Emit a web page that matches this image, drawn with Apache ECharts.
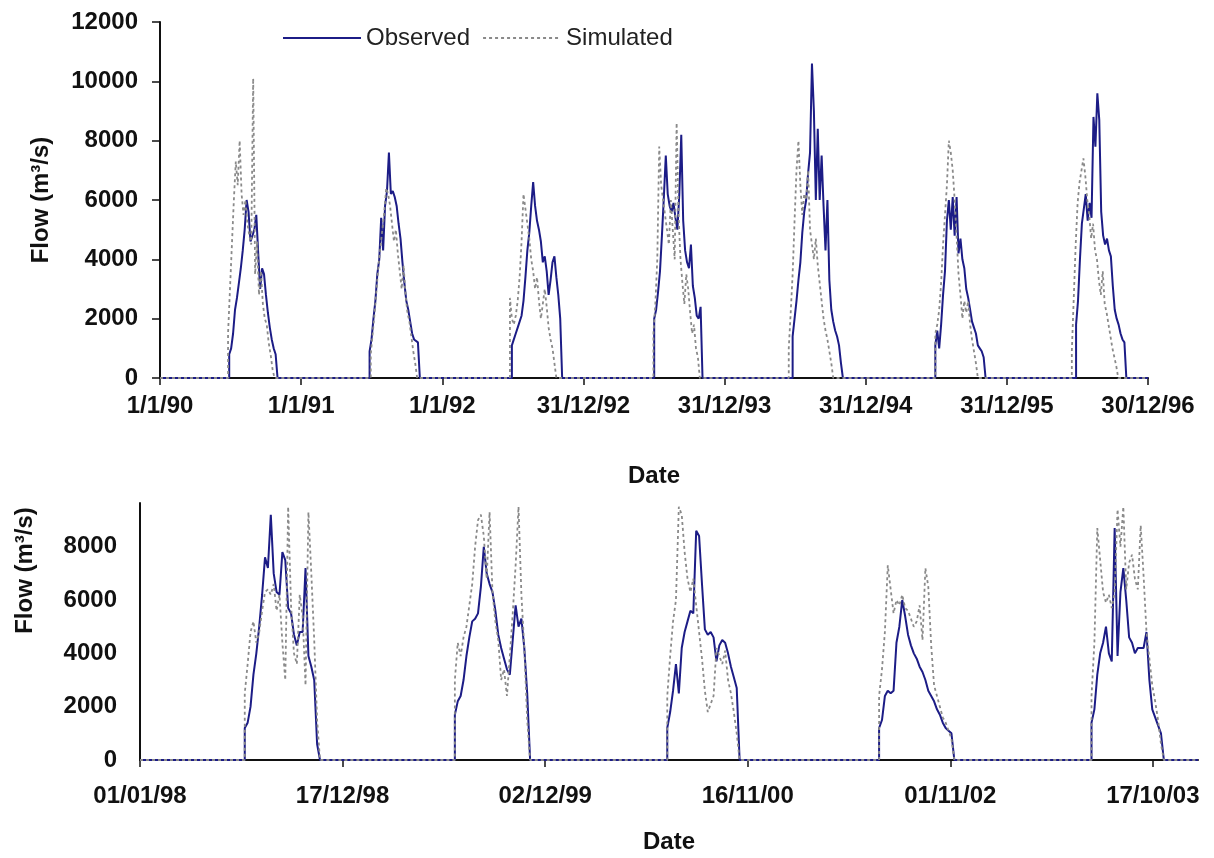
<!DOCTYPE html>
<html>
<head>
<meta charset="utf-8">
<title>Observed vs simulated flow</title>
<script src="https://cdn.jsdelivr.net/npm/echarts@6/dist/echarts.min.js"></script>
<style>
  html, body { margin: 0; padding: 0; background: #fff; }
  #chart { width: 1214px; height: 858px; }
</style>
</head>
<body>
<div id="chart"></div>
<script>
// x values are days counted from the first tick of each panel, one value every STEP days
const STEP = 5;

// top panel (1990-1996)
const topTickLabels = ['1/1/90', '1/1/91', '1/1/92', '31/12/92', '31/12/93', '31/12/94', '31/12/95', '30/12/96'];
const topTickDays = 365;
const topEndDay = 2555;
const topObsStart = [179, 542, 910, 1278, 1636, 2005, 2369];
const topObs = [
    [800, 1000, 1500, 2300, 2700, 3200, 3700, 4300, 5000, 6000, 5600, 4600, 4800, 5000, 5500, 4200, 3000, 3700, 3500, 2800, 2200, 1700, 1300, 1000, 800, 0],
    [900, 1300, 2000, 2600, 3500, 4000, 5400, 4300, 5800, 6300, 7600, 6200, 6300, 6100, 5800, 5200, 4700, 3900, 3200, 2600, 2300, 1900, 1500, 1300, 1300, 1200, 0],
    [1100, 1300, 1500, 1700, 1900, 2100, 2600, 3400, 4300, 4900, 5800, 6600, 5800, 5300, 5000, 4600, 3900, 4100, 3600, 2800, 3300, 3900, 4100, 3400, 2800, 2000, 0],
    [2000, 2300, 2900, 3600, 4800, 6100, 7500, 6200, 5800, 5600, 5900, 5400, 5000, 6200, 8200, 5300, 4300, 3900, 3700, 4500, 3100, 2700, 2100, 2000, 2400, 0],
    [1400, 2000, 2600, 3300, 3900, 4900, 5600, 6000, 6900, 7600, 10600, 9000, 6000, 8400, 6000, 7500, 5800, 4300, 6000, 3300, 2300, 1900, 1600, 1400, 1100, 500, 0],
    [1100, 1600, 1000, 1800, 2800, 3600, 5300, 6000, 5000, 6100, 4800, 6100, 4200, 4700, 4000, 3700, 3000, 2700, 2300, 1900, 1700, 1500, 1100, 1000, 900, 700, 0],
    [1800, 2600, 4000, 5200, 5700, 6200, 5300, 5900, 5400, 8800, 7800, 9600, 8700, 5600, 4800, 4500, 4700, 4300, 4100, 3100, 2300, 2000, 1800, 1500, 1300, 1200, 0]
];
const topSimStart = [176, 545, 905, 1276, 1626, 2005, 2358];
const topSim = [
    [1500, 3000, 4500, 6000, 7300, 6500, 8000, 6200, 5500, 6000, 5200, 4800, 4500, 10100, 3500, 4600, 2800, 3600, 2500, 2000, 1800, 1200, 800, 300, 0],
    [800, 1500, 2200, 3000, 3800, 4400, 5000, 5600, 6400, 6200, 5800, 5200, 4600, 5000, 4200, 3600, 3000, 3800, 2800, 2200, 1900, 1400, 900, 500, 0],
    [2700, 2000, 1800, 2100, 2600, 3400, 4600, 6200, 5700, 5200, 4700, 4000, 3600, 3000, 3400, 2600, 2000, 2500, 3000, 2400, 1700, 1300, 1000, 500, 0],
    [1500, 2500, 4000, 7800, 6500, 6000, 5500, 5000, 4500, 6000, 5000, 4000, 8600, 5500, 4000, 3200, 2500, 3500, 3000, 2200, 1500, 1800, 1000, 700, 0],
    [1000, 2200, 3500, 5300, 7000, 8000, 6500, 5500, 6200, 6000, 7000, 5000, 4500, 4000, 4700, 3800, 3200, 2600, 2000, 1600, 1300, 900, 500, 0],
    [1500, 1800, 2300, 3200, 4500, 5500, 6500, 8000, 7600, 7000, 6000, 4800, 3500, 2800, 2000, 2600, 2200, 2600, 1800, 1300, 900, 500, 0],
    [900, 2700, 4500, 5900, 6600, 7000, 7400, 6800, 6000, 5500, 4700, 5200, 4300, 4000, 3300, 2800, 3600, 2500, 2200, 1800, 1400, 1000, 700, 400, 0]
];

// bottom panel (1998-2003)
const botTickLabels = ['01/01/98', '17/12/98', '02/12/99', '16/11/00', '01/11/02', '17/10/03'];
const botTickDays = 350;
const botEndDay = 1828;
const botObsStart = [181, 544, 911, 1277, 1644];
const botObs = [
    [1200, 1400, 2000, 3200, 4000, 5000, 6200, 7600, 7200, 9200, 7000, 6300, 6200, 7800, 7500, 5700, 5500, 4700, 4300, 4800, 4800, 7200, 3900, 3500, 3000, 600, 0],
    [1700, 2200, 2400, 3000, 3900, 4600, 5200, 5300, 5500, 6500, 8000, 7000, 6600, 6300, 5600, 4700, 4200, 3800, 3400, 3200, 4500, 5800, 5000, 5300, 4200, 2500, 0],
    [1200, 1800, 2600, 3600, 2500, 4200, 4800, 5200, 5600, 5500, 8600, 8400, 6600, 4900, 4700, 4800, 4600, 3700, 4300, 4500, 4400, 4000, 3500, 3100, 2700, 0],
    [1200, 1500, 2400, 2600, 2500, 2600, 4400, 5000, 6000, 5400, 4700, 4300, 4000, 3800, 3500, 3300, 3000, 2600, 2400, 2200, 1900, 1700, 1400, 1200, 1100, 1000, 0],
    [1400, 1900, 3200, 4000, 4400, 5000, 4000, 3700, 8700, 3900, 6300, 7200, 6000, 4600, 4400, 4000, 4200, 4200, 4200, 4800, 3000, 1900, 1600, 1300, 1000, 0]
];
const botSimStart = [181, 544, 911, 1277, 1644];
const botSim = [
    [2500, 3600, 4800, 5200, 4400, 4800, 5600, 6300, 6400, 6200, 6600, 5600, 6200, 4400, 3000, 9500, 5800, 4000, 3600, 6200, 5400, 2800, 9300, 7000, 4500, 1500, 0],
    [3000, 4400, 3900, 4600, 5000, 5800, 6600, 8000, 9000, 9200, 8400, 6800, 9300, 6300, 5200, 4500, 3000, 3400, 2400, 3900, 5500, 7300, 9500, 6200, 4200, 1500, 0],
    [2400, 3900, 5200, 6000, 9500, 9200, 7800, 6800, 6300, 6800, 5800, 4800, 3800, 2600, 1800, 2100, 2400, 4200, 3900, 3600, 4100, 3000, 2500, 1800, 1000, 0],
    [2400, 3400, 4800, 7300, 6400, 5500, 6000, 5800, 6200, 5700, 5600, 5300, 5000, 5200, 5800, 4500, 7200, 6500, 4300, 2800, 2400, 2000, 1600, 1400, 1100, 800, 0],
    [2400, 4400, 8700, 7500, 6300, 5900, 6200, 5700, 6300, 9400, 8000, 9500, 6400, 7400, 7700, 6800, 6400, 8800, 6900, 4800, 3800, 2800, 2200, 1500, 600, 0]
];

// flow is zero between the wet seasons
function buildSeries (starts, seasons, endDay) {
    let pts = [[0, 0]];
    seasons.forEach((vals, k) => {
        pts.push([starts[k], 0]);
        vals.forEach((v, i) => pts.push([starts[k] + i * STEP, v]));
    });
    pts.push([endDay, 0]);
    return pts;
}

const FONT = 'Liberation Sans, Arial, sans-serif';
const OBS_COLOR = '#1c1c86';
const SIM_COLOR = '#8a8a8a';

let labelStyle = { fontFamily: FONT, fontWeight: 'bold', fontSize: 24, color: '#111' };
let axisLine = { show: true, lineStyle: { color: '#111', width: 2 } };

function obsSeries (data, idx) {
    return {
        name: 'Observed', type: 'line', xAxisIndex: idx, yAxisIndex: idx, data: data,
        symbol: 'none', showSymbol: false,
        lineStyle: { color: OBS_COLOR, width: 2 }, itemStyle: { color: OBS_COLOR }
    };
}
function simSeries (data, idx) {
    return {
        name: 'Simulated', type: 'line', xAxisIndex: idx, yAxisIndex: idx, data: data,
        symbol: 'none', showSymbol: false,
        lineStyle: { color: SIM_COLOR, width: 1.8, type: [3, 3] }, itemStyle: { color: SIM_COLOR }
    };
}

let topTickVals = topTickLabels.map((t, i) => i * topTickDays);
let botTickVals = botTickLabels.map((t, i) => i * botTickDays);
let plainNumber = v => String(v);

let option = {
    backgroundColor: '#fff',
    animation: false,
    legend: {
        left: 277, top: 21,
        itemWidth: 78, itemHeight: 14, itemGap: 12,
        itemStyle: { opacity: 0 },
        textStyle: { fontFamily: FONT, fontSize: 24, color: '#222' },
        data: ['Observed', 'Simulated']
    },
    grid: [
        { left: 160, right: 66, top: 22, bottom: 480 },
        { left: 140, right: 16, top: 503, bottom: 98 }
    ],
    xAxis: [
        {
            gridIndex: 0, type: 'value', min: 0, max: topEndDay, interval: topTickDays,
            axisLine: axisLine,
            axisTick: { show: true, length: 7, lineStyle: { color: '#111', width: 1.5 } },
            axisLabel: Object.assign({ margin: 16, formatter: v => topTickLabels[Math.round(v / topTickDays)] || '' }, labelStyle),
            splitLine: { show: false },
            name: 'Date', nameLocation: 'middle', nameGap: 86, nameTextStyle: labelStyle
        },
        {
            gridIndex: 1, type: 'value', min: 0, max: botEndDay, interval: botTickDays,
            axisLine: axisLine,
            axisTick: { show: true, length: 7, customValues: botTickVals, lineStyle: { color: '#111', width: 1.5 } },
            axisLabel: Object.assign({ margin: 24, customValues: botTickVals, formatter: v => botTickLabels[Math.round(v / botTickDays)] || '' }, labelStyle),
            splitLine: { show: false },
            name: 'Date', nameLocation: 'middle', nameGap: 70, nameTextStyle: labelStyle
        }
    ],
    yAxis: [
        {
            gridIndex: 0, type: 'value', min: 0, max: 12000, interval: 2000,
            axisLine: axisLine,
            axisTick: { show: true, length: 8, lineStyle: { color: '#111', width: 1.5 } },
            axisLabel: Object.assign({ margin: 22, formatter: plainNumber }, labelStyle),
            splitLine: { show: false },
            name: 'Flow (m³/s)', nameLocation: 'middle', nameRotate: 90, nameGap: 107,
            nameTextStyle: labelStyle
        },
        {
            gridIndex: 1, type: 'value', min: 0, max: 9640, interval: 2000,
            axisLine: axisLine,
            axisTick: { show: false },
            axisLabel: Object.assign({ margin: 23, customValues: [0, 2000, 4000, 6000, 8000], formatter: plainNumber }, labelStyle),
            splitLine: { show: false },
            name: 'Flow (m³/s)', nameLocation: 'middle', nameRotate: 90, nameGap: 103,
            nameTextStyle: Object.assign({ padding: [0, 0, 0, 122] }, labelStyle)
        }
    ],
    series: [
        obsSeries(buildSeries(topObsStart, topObs, topEndDay), 0),
        simSeries(buildSeries(topSimStart, topSim, topEndDay), 0),
        obsSeries(buildSeries(botObsStart, botObs, botEndDay), 1),
        simSeries(buildSeries(botSimStart, botSim, botEndDay), 1)
    ]
};

let mainChart = echarts.init(document.getElementById('chart'));
mainChart.setOption(option);
</script>
</body>
</html>
